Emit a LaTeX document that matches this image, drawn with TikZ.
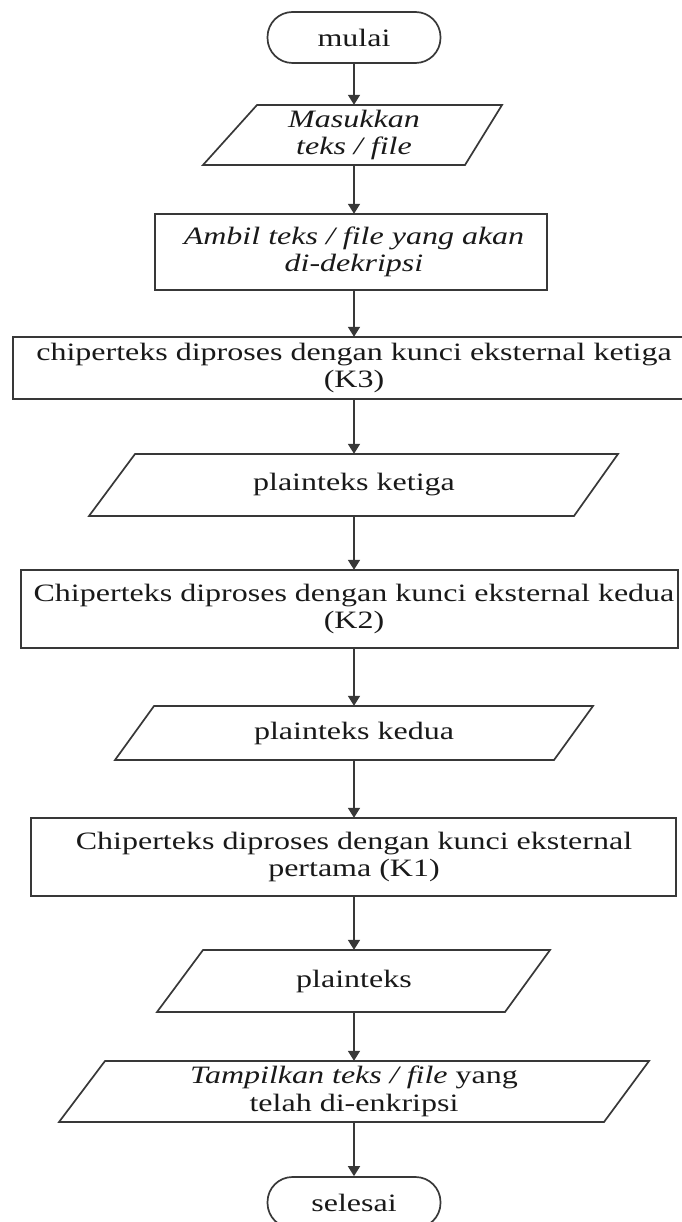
\documentclass[tikz,border=0pt]{standalone}
\usepackage{fontspec}
\setmainfont{Liberation Serif}[FakeStretch=1.28]
\usetikzlibrary{arrows.meta}
\begin{document}
\begin{tikzpicture}[x=1pt,y=-1pt,
  outline/.style={draw=black!78, line width=1.7pt, line join=miter},
  lbl/.style={inner sep=0pt, align=center, text=black!90, font=\fontsize{25}{27.5}\selectfont},
  terminal/.style={lbl, outline, rounded corners=25pt, minimum width=173pt, minimum height=51pt},
  arr/.style={draw=black!78, line width=1.7pt, -{Triangle[width=12pt,length=10pt]}}
]
\useasboundingbox (0,0) rectangle (681,1222);
\fill[white] (0,0) rectangle (681,1222);

% nodes (text, all centred on the flow axis x = 354)
\node[terminal] (mulai) at (354,37.5) {mulai};
\node[lbl, minimum height=60pt] (masuk) at (354,135) {\itshape Masukkan\\\itshape teks / file};
\node[lbl, minimum height=76pt] (ambil) at (354,252) {\itshape Ambil teks / file yang akan\\\itshape di-dekripsi};
\node[lbl, minimum height=62pt] (k3) at (354,368) {chiperteks diproses dengan kunci eksternal ketiga\\(K3)};
\node[lbl, minimum height=62pt] (pk3) at (354,485) {plainteks ketiga};
\node[lbl, minimum height=78pt] (k2) at (354,609) {Chiperteks diproses dengan kunci eksternal kedua\\(K2)};
\node[lbl, minimum height=54pt] (pk2) at (354,733) {plainteks kedua};
\node[lbl, minimum height=78pt] (k1) at (354,857) {Chiperteks diproses dengan kunci eksternal\\pertama (K1)};
\node[lbl, minimum height=62pt] (pl) at (354,981) {plainteks};
\node[lbl, minimum height=61pt] (tamp) at (354,1091.5) {\textit{Tampilkan teks / file} yang\\telah di-enkripsi};
\node[terminal] (selesai) at (354,1202.5) {selesai};

% outlines
\draw[outline] (257,105) -- (502,105) -- (465,165) -- (203,165) -- cycle;
\draw[outline] (155,214) rectangle (547,290);
\draw[outline] (13,337) rectangle (695,399);
\draw[outline] (135,454) -- (618,454) -- (574,516) -- (89,516) -- cycle;
\draw[outline] (21,570) rectangle (678,648);
\draw[outline] (154,706) -- (593,706) -- (554,760) -- (115,760) -- cycle;
\draw[outline] (31,818) rectangle (676,896);
\draw[outline] (203,950) -- (550,950) -- (505,1012) -- (157,1012) -- cycle;
\draw[outline] (105,1061) -- (649,1061) -- (604,1122) -- (59,1122) -- cycle;

% connectors
\draw[arr] (mulai.south) -- (masuk.north);
\draw[arr] (masuk.south) -- (ambil.north);
\draw[arr] (ambil.south) -- (k3.north);
\draw[arr] (k3.south) -- (pk3.north);
\draw[arr] (pk3.south) -- (k2.north);
\draw[arr] (k2.south) -- (pk2.north);
\draw[arr] (pk2.south) -- (k1.north);
\draw[arr] (k1.south) -- (pl.north);
\draw[arr] (pl.south) -- (tamp.north);
\draw[arr] (tamp.south) -- (selesai.north);
\end{tikzpicture}
\end{document}
